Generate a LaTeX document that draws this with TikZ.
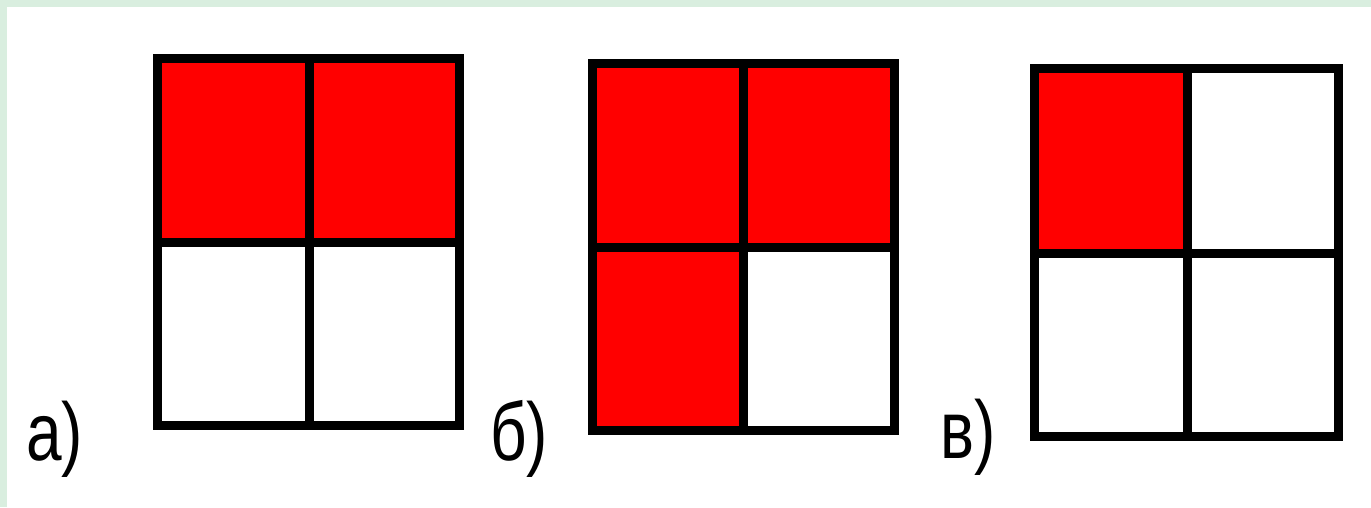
\documentclass[tikz,border=0pt]{standalone}
\usepackage{fontspec}
\setmainfont{Liberation Sans}
\usepackage{xcolor}
\definecolor{FrameGreen}{RGB}{217, 238, 223}
\definecolor{CellRed}{RGB}{255, 0, 0}
\usepackage{tikz}

\begin{document}
\begin{tikzpicture}[
  x=1pt, y=-1pt,
  cellred/.style={fill=CellRed, draw=none},
  gridline/.style={draw=black, line width=9pt, line join=miter},
  lbl/.style={anchor=base west, inner sep=0pt,
    font=\fontsize{82}{82}\selectfont}
]
  \useasboundingbox (0,0) rectangle (1371,507);
  \fill[white] (0,0) rectangle (1371,507);
  \fill[FrameGreen] (0,0) rectangle (1371,7);
  \fill[FrameGreen] (0,0) rectangle (7,507);

  % a) top half
  \fill[cellred] (157,58) rectangle (459,242);
  \draw[gridline] (157,58) rectangle (459,425);
  \draw[gridline] (309,58) -- (309,425);
  \draw[gridline] (157,242) -- (459,242);

  % b) three quarters
  \fill[cellred] (592,63) rectangle (894,247);
  \fill[cellred] (592,247) rectangle (743,430);
  \draw[gridline] (592,63) rectangle (894,430);
  \draw[gridline] (743,63) -- (743,430);
  \draw[gridline] (592,247) -- (894,247);

  % c) one quarter
  \fill[cellred] (1034,68) rectangle (1187,253);
  \draw[gridline] (1034,68) rectangle (1338,436);
  \draw[gridline] (1187,68) -- (1187,436);
  \draw[gridline] (1034,253) -- (1338,253);

  \node[lbl] (la) at (26,460)  {\scalebox{0.78}[1]{а)}};
  \node[lbl] (lb) at (490,460) {\scalebox{0.78}[1]{б)}};
  \node[lbl] (lc) at (940,458) {\scalebox{0.78}[1]{в)}};
\end{tikzpicture}
\end{document}
